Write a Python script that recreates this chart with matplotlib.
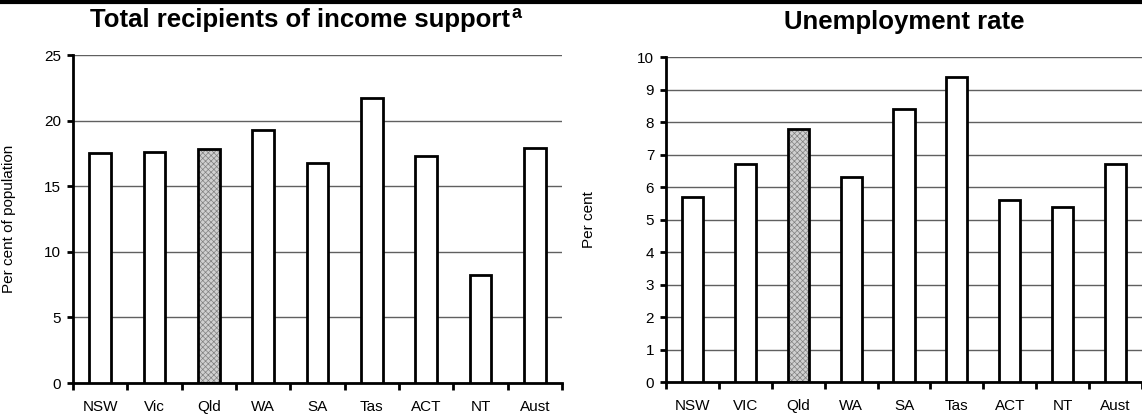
import matplotlib
matplotlib.use("Agg")
import matplotlib.pyplot as plt
import numpy as np

plt.rcParams["font.family"] = ["Liberation Sans", "DejaVu Sans"]
plt.rcParams["hatch.linewidth"] = 0.5

# Income support recipients (per cent of population)
support_states = ["NSW", "Vic", "Qld", "WA", "SA", "Tas", "ACT", "NT", "Aust"]
support_values = [17.5, 17.6, 17.8, 19.3, 16.8, 21.7, 17.3, 8.2, 17.9]

# Unemployment rate (per cent)
unemp_states = ["NSW", "VIC", "Qld", "WA", "SA", "Tas", "ACT", "NT", "Aust"]
unemp_values = [5.7, 6.7, 7.8, 6.3, 8.4, 9.4, 5.6, 5.4, 6.7]

highlight = "Qld"


def draw_panel(ax, labels, values, ymax, step, ylabel, title, title_x=0.5):
    x = np.arange(len(labels))
    for xi, lab, val in zip(x, labels, values):
        if lab == highlight:
            ax.bar(xi, val, width=0.4, color="#d0d0d0", hatch="xxxxxx",
                   edgecolor="#808080", linewidth=0, zorder=2)
            ax.bar(xi, val, width=0.4, fill=False, edgecolor="black",
                   linewidth=2, zorder=3)
        else:
            ax.bar(xi, val, width=0.4, color="white", edgecolor="black",
                   linewidth=2, zorder=3)

    ax.set_xlim(-0.5, len(labels) - 0.5)
    ax.set_ylim(0, ymax)
    ax.set_yticks(np.arange(0, ymax + step / 2, step))
    ax.yaxis.grid(True, color="#606060", linewidth=1)
    ax.set_axisbelow(True)

    ax.set_xticks(x)
    ax.set_xticklabels(labels, fontsize=11)
    ax.set_xticks(np.arange(-0.5, len(labels)), minor=True)
    ax.tick_params(axis="x", which="major", length=0, pad=12)
    ax.tick_params(axis="x", which="minor", length=5, width=2, direction="out")
    ax.tick_params(axis="y", length=4.5, width=2, direction="out", labelsize=11, pad=4)

    for side in ("top", "right"):
        ax.spines[side].set_visible(False)
    for side in ("left", "bottom"):
        ax.spines[side].set_linewidth(2)
        ax.spines[side].set_capstyle("projecting")

    ax.set_ylabel(ylabel, fontsize=11)
    t = ax.set_title(title, fontsize=18.5, fontweight="bold", pad=20, x=title_x)
    return t


fig = plt.figure(figsize=(11.42, 4.18), dpi=100)
ax1 = fig.add_axes([0.0639, 0.0837, 0.4282, 0.7847])
ax2 = fig.add_axes([0.5832, 0.0861, 0.4168, 0.7775])

t1 = draw_panel(ax1, support_states, support_values, 25, 5,
                "Per cent of population", "Total recipients of income support",
                title_x=0.465)
ax1.annotate("a", xy=(1, 1), xycoords=t1, xytext=(1, 2), textcoords="offset points",
             fontsize=13, fontweight="bold", ha="left", va="top")
ax1.yaxis.set_label_coords(-0.117, 0.5)

draw_panel(ax2, unemp_states, unemp_values, 10, 1, "Per cent", "Unemployment rate")
ax2.yaxis.set_label_coords(-0.147, 0.5)

# rule across the top of the figure
fig.add_artist(plt.Line2D([0, 1], [0.996, 0.996], color="black", linewidth=3,
                          transform=fig.transFigure))

fig.savefig("out.png", dpi=100)
